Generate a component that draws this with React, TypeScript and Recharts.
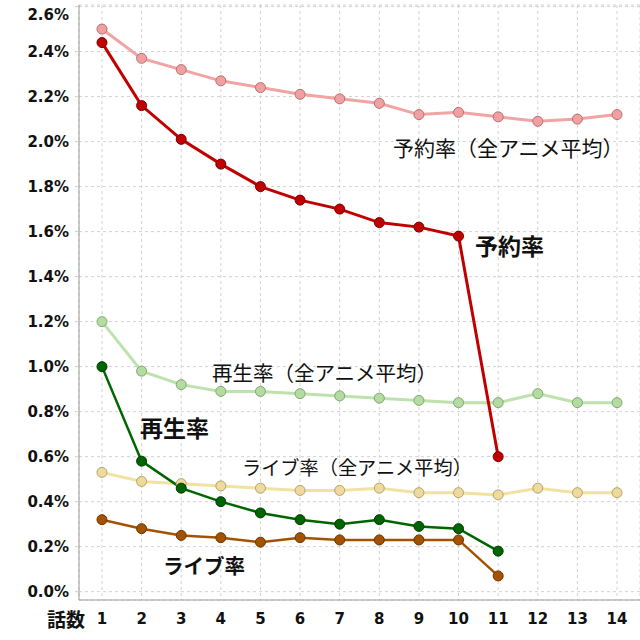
import {
  LineChart,
  Line,
  XAxis,
  YAxis,
  CartesianGrid,
} from 'recharts'

const episodes = [1, 2, 3, 4, 5, 6, 7, 8, 9, 10, 11, 12, 13, 14]
const reserveAvg = [2.5, 2.37, 2.32, 2.27, 2.24, 2.21, 2.19, 2.17, 2.12, 2.13, 2.11, 2.09, 2.1, 2.12]
const reserve = [2.44, 2.16, 2.01, 1.9, 1.8, 1.74, 1.7, 1.64, 1.62, 1.58, 0.6]
const playAvg = [1.2, 0.98, 0.92, 0.89, 0.89, 0.88, 0.87, 0.86, 0.85, 0.84, 0.84, 0.88, 0.84, 0.84]
const play = [1.0, 0.58, 0.46, 0.4, 0.35, 0.32, 0.3, 0.32, 0.29, 0.28, 0.18]
const liveAvg = [0.53, 0.49, 0.48, 0.47, 0.46, 0.45, 0.45, 0.46, 0.44, 0.44, 0.43, 0.46, 0.44, 0.44]
const live = [0.32, 0.28, 0.25, 0.24, 0.22, 0.24, 0.23, 0.23, 0.23, 0.23, 0.07]
const yTicks = [0, 0.2, 0.4, 0.6, 0.8, 1.0, 1.2, 1.4, 1.6, 1.8, 2.0, 2.2, 2.4, 2.6]

const data = episodes.map((ep, i) => ({
  ep,
  reserveAvg: reserveAvg[i],
  reserve: reserve[i],
  playAvg: playAvg[i],
  play: play[i],
  liveAvg: liveAvg[i],
  live: live[i],
}))

const tickFont = '"DejaVu Sans", Verdana, sans-serif'
const jpFont = '"Noto Sans CJK JP", sans-serif'

const YTick = ({ x, y, payload }: any) => (
  <text
    x={x}
    y={Math.max(y, 15)}
    dy="0.36em"
    textAnchor="end"
    fontFamily={tickFont}
    fontWeight="bold"
    fontSize={15}
    fill="#111"
  >
    {payload.value.toFixed(1)}%
  </text>
)

const XTick = ({ x, y, payload }: any) => (
  <text
    x={x}
    y={y}
    dy="0.71em"
    textAnchor="middle"
    fontFamily={tickFont}
    fontWeight="bold"
    fontSize={15}
    fill="#111"
  >
    {payload.value}
  </text>
)

const labels = [
  { text: '予約率（全アニメ平均）', x: 393, y: 147, size: 21, bold: false },
  { text: '予約率', x: 475, y: 245, size: 23, bold: true },
  { text: '再生率（全アニメ平均）', x: 212, y: 372, size: 20.5, bold: false },
  { text: '再生率', x: 140, y: 427, size: 23, bold: true },
  { text: 'ライブ率（全アニメ平均）', x: 242, y: 468, size: 19.2, bold: false },
  { text: 'ライブ率', x: 163, y: 565, size: 20.5, bold: true },
  { text: '話数', x: 47, y: 618, size: 19, bold: true },
]

export default function App() {
  const dot = (fill: string, stroke: string) => ({ r: 5, fill, stroke, strokeWidth: 1 })
  return (
    <div style={{ position: 'absolute', left: 0, top: 0, width: 640, height: 640, background: '#fff' }}>
      <LineChart width={640} height={640} data={data} margin={{ top: 5, right: 0, bottom: 0, left: 0 }}>
        <CartesianGrid stroke="#d2d2d2" strokeDasharray="3 3" />
        <XAxis
          dataKey="ep"
          type="number"
          domain={[0.42, 14.58]}
          ticks={episodes}
          height={40}
          tickLine={false}
          tickMargin={7}
          tick={<XTick />}
          axisLine={{ stroke: '#9a9a9a' }}
          allowDataOverflow
        />
        <YAxis
          type="number"
          domain={[-0.037, 2.607]}
          ticks={yTicks}
          width={79}
          tickSize={4}
          tickMargin={6}
          tickLine={{ stroke: '#cfcfcf' }}
          tick={<YTick />}
          axisLine={{ stroke: '#9a9a9a' }}
          allowDataOverflow
        />
        <Line dataKey="reserveAvg" stroke="#f2a3a3" strokeWidth={3} dot={dot('#f0a0a0', '#b87070')} activeDot={false} isAnimationActive={false} />
        <Line dataKey="playAvg" stroke="#bde2ad" strokeWidth={3} dot={dot('#b4dba2', '#7fa86e')} activeDot={false} isAnimationActive={false} />
        <Line dataKey="liveAvg" stroke="#f2e2a0" strokeWidth={3} dot={dot('#eed99e', '#b5a46c')} activeDot={false} isAnimationActive={false} />
        <Line dataKey="reserve" stroke="#c00000" strokeWidth={3} dot={dot('#c00000', '#7a0000')} activeDot={false} isAnimationActive={false} />
        <Line dataKey="play" stroke="#006400" strokeWidth={2.5} dot={dot('#006400', '#003a00')} activeDot={false} isAnimationActive={false} />
        <Line dataKey="live" stroke="#a35200" strokeWidth={2.5} dot={dot('#a35200', '#6a3500')} activeDot={false} isAnimationActive={false} />
      </LineChart>
      {labels.map(l => (
        <div
          key={l.text}
          style={{
            position: 'absolute',
            left: l.x,
            top: l.y,
            transform: 'translateY(-50%)',
            fontFamily: jpFont,
            fontSize: l.size,
            fontWeight: l.bold ? 700 : 400,
            lineHeight: 1,
            whiteSpace: 'nowrap',
            color: '#111',
          }}
        >
          {l.text}
        </div>
      ))}
    </div>
  )
}
